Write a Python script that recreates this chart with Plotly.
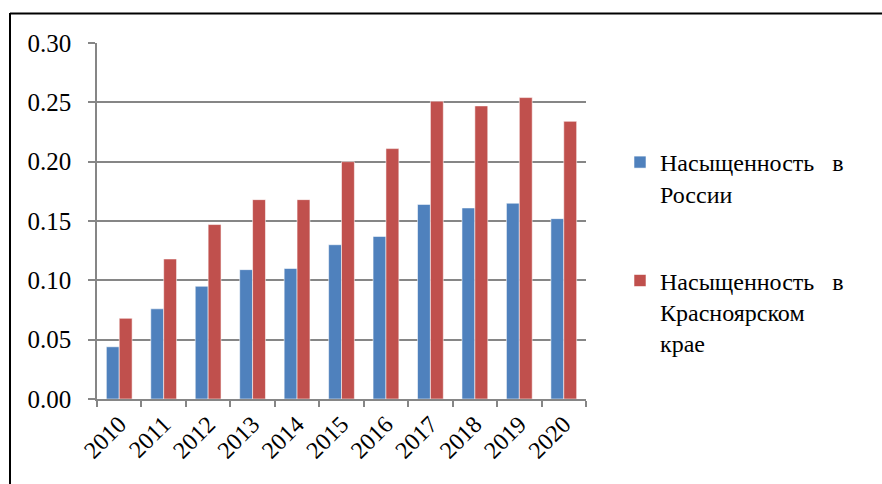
import plotly.graph_objects as go

# Насыщенность по годам
years = ["2010", "2011", "2012", "2013", "2014", "2015",
         "2016", "2017", "2018", "2019", "2020"]
russia = [0.044, 0.076, 0.095, 0.109, 0.110, 0.130,
          0.137, 0.164, 0.161, 0.165, 0.152]
krasnoyarsk = [0.068, 0.118, 0.147, 0.168, 0.168, 0.200,
               0.211, 0.251, 0.247, 0.254, 0.234]
y_ticks = [0.00, 0.05, 0.10, 0.15, 0.20, 0.25, 0.30]

series_names = ["Насыщенность\u2002 в<br>России",
                "Насыщенность\u2002 в<br>Красноярском<br>крае"]
series_colors = ["#4F81BD", "#C0504D"]

W, H = 882, 484
ML, MR, MT, MB = 97, 296, 43, 85
plot_w = W - ML - MR
plot_h = H - MT - MB

FONT = "Liberation Serif, serif"
GRID = "#868686"

fig = go.Figure()
for i, (name, vals, col) in enumerate(zip(series_names, [russia, krasnoyarsk], series_colors)):
    fig.add_trace(go.Bar(
        x=years, y=vals, name=name, legendgroup=f"g{i}",
        marker=dict(color=col, line=dict(color="rgba(255,255,255,0.55)", width=1)),
    ))

def px_x(px):
    return (px - ML) / plot_w

def px_y(py):
    return (H - MB - py) / plot_h

# Рамка сверху и слева
shapes = [
    dict(type="line", xref="paper", yref="paper",
         x0=px_x(10), x1=px_x(W + 5), y0=px_y(13.5), y1=px_y(13.5),
         line=dict(color="black", width=2)),
    dict(type="line", xref="paper", yref="paper",
         x0=px_x(10), x1=px_x(10), y0=px_y(13), y1=px_y(H + 5),
         line=dict(color="black", width=2)),
]

fig.update_layout(
    width=W, height=H,
    margin=dict(l=ML, r=MR, t=MT, b=MB, pad=0),
    paper_bgcolor="white", plot_bgcolor="white",
    barmode="group", bargap=0.42, bargroupgap=0,
    font=dict(family=FONT, color="black", size=24),
    shapes=shapes,
    legend=dict(
        x=px_x(620), y=px_y(140), xanchor="left", yanchor="top",
        font=dict(family=FONT, size=24, color="black"),
        tracegroupgap=53, valign="top", bgcolor="rgba(0,0,0,0)",
    ),
    xaxis=dict(
        type="category", showgrid=False, showline=True, linecolor=GRID, linewidth=1.5,
        ticks="outside", tickson="boundaries", ticklen=6, tickcolor=GRID, tickwidth=1.5,
        tickangle=-45, tickfont=dict(family=FONT, size=24, color="black"),
    ),
    yaxis=dict(
        range=[0, 0.30], tickvals=y_ticks, tickformat=".2f",
        showgrid=True, gridcolor=GRID, gridwidth=1.5,
        showline=True, linecolor=GRID, linewidth=1.5, zeroline=False,
        ticks="outside", ticklen=7, tickcolor=GRID, tickwidth=1.5,
        tickfont=dict(family=FONT, size=25, color="black"), ticklabelstandoff=12,
    ),
)

fig.write_html("out.html")
